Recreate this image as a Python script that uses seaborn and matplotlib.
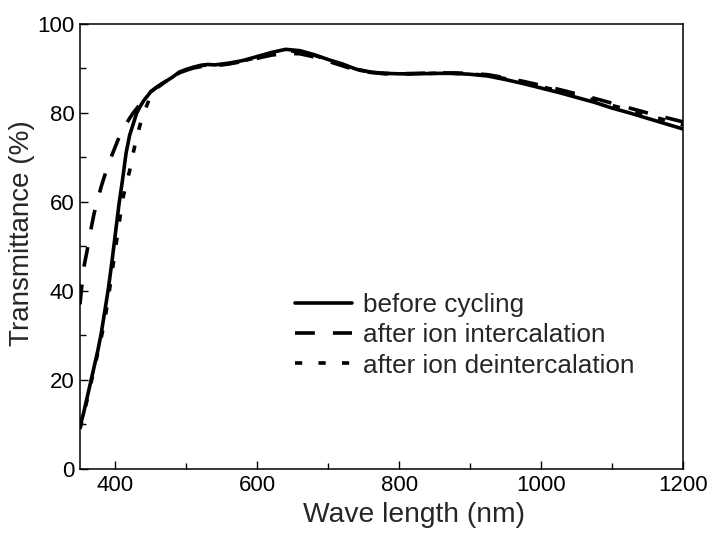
import pandas as pd
import matplotlib.pyplot as plt
from matplotlib.ticker import MultipleLocator
import seaborn as sns

# Wavelength grid (nm)
wavelength = [350, 355, 360, 365, 370, 375, 380, 385, 390, 395, 400, 405, 410, 415,
              420, 425, 430, 435, 440, 450, 460, 470, 480, 490, 500, 510, 520, 530,
              540, 550, 560, 570, 580, 600, 620, 640, 660, 680, 700, 720, 740, 760,
              780, 800, 825, 850, 875, 900, 925, 950, 975, 1000, 1025, 1050, 1075,
              1100, 1125, 1150, 1175, 1200]

# Transmittance (%)
before = [9.5, 12.5, 16, 19.5, 23, 26.5, 30.5, 35.5, 40.5, 46.5, 53, 59.5, 65, 71,
          75, 77.5, 80, 81.5, 82.8, 84.8, 86, 87, 88, 89.2, 89.8, 90.3, 90.7, 90.9,
          90.8, 91.0, 91.2, 91.5, 91.8, 92.7, 93.6, 94.3, 94.0, 93.1, 92.0, 91.0, 89.8, 89.2,
          88.9, 88.8, 88.8, 88.9, 88.9, 88.7, 88.3, 87.5, 86.6, 85.6, 84.6, 83.5, 82.4,
          81.1, 80.0, 78.8, 77.6, 76.4]
intercalation = [37, 45, 49, 53.5, 57.5, 60.5, 63.5, 66, 68.5, 70.5, 72.5, 74.5, 76, 77.5,
                 78.8, 80, 81, 82, 83, 84.8, 86, 87, 88, 89, 89.6, 90.1, 90.4, 90.6,
                 90.6, 90.8, 91.0, 91.3, 91.6, 92.3, 93.0, 93.4, 93.3, 92.6, 91.6, 90.6, 89.6, 89.1,
                 88.8, 88.8, 88.9, 89.0, 89.0, 88.9, 88.6, 87.9, 87.1, 86.2, 85.3, 84.3, 83.3,
                 82.2, 81.1, 80.0, 79.0, 78.0]
deintercalation = [9, 12, 15.5, 19, 22.5, 26, 29.5, 33.5, 38.5, 44, 49.5, 55, 60.5, 64,
                   67, 71, 74.5, 77.5, 80, 84, 85.8, 87, 88, 89, 89.7, 90.2, 90.6, 90.8,
                   90.7, 90.9, 91.1, 91.4, 91.7, 92.5, 93.4, 94.0, 93.8, 93.0, 91.9, 90.9, 89.7, 89.2,
                   88.9, 88.8, 88.8, 88.9, 88.9, 88.8, 88.4, 87.7, 86.8, 85.9, 85.0, 83.9, 82.9,
                   81.7, 80.6, 79.5, 78.4, 77.3]

labels = ["before cycling", "after ion intercalation", "after ion deintercalation"]

df = pd.concat([
    pd.DataFrame({"wl": wavelength, "T": before, "series": labels[0]}),
    pd.DataFrame({"wl": wavelength, "T": intercalation, "series": labels[1]}),
    pd.DataFrame({"wl": wavelength, "T": deintercalation, "series": labels[2]}),
])

sns.set_style("ticks", {"xtick.direction": "in", "ytick.direction": "in"})
plt.rcParams["font.family"] = ["Liberation Sans", "DejaVu Sans"]

fig = plt.figure(figsize=(7.09, 5.35), dpi=100)
ax = fig.add_axes([0.1128, 0.1234, 0.8505, 0.8318])

sns.lineplot(
    data=df, x="wl", y="T", style="series", style_order=labels,
    dashes={labels[0]: "", labels[1]: (5.5, 5), labels[2]: (2, 4.5)},
    color="black", linewidth=2.6, ax=ax, sort=False,
)

ax.set_xlim(350, 1200)
ax.set_ylim(0, 100)
ax.xaxis.set_major_locator(MultipleLocator(200))
ax.xaxis.set_minor_locator(MultipleLocator(100))
ax.yaxis.set_major_locator(MultipleLocator(20))
ax.yaxis.set_minor_locator(MultipleLocator(10))
ax.tick_params(which="major", length=6, width=1, labelsize=16, colors="black", pad=4)
ax.tick_params(which="minor", length=4, width=1, colors="black")
for s in ax.spines.values():
    s.set_linewidth(1.1)
    s.set_color("black")

ax.set_xlabel("Wave length (nm)", fontsize=20.3)
ax.xaxis.set_label_coords(0.554, -0.075)
ax.set_ylabel("Transmittance (%)", fontsize=20)
ax.yaxis.set_label_coords(-0.075, 0.529)

handles, _ = ax.get_legend_handles_labels()
ax.legend(handles=handles, labels=labels, loc="upper left",
          bbox_to_anchor=(295 / 709, 1 - 293 / 535), bbox_transform=fig.transFigure,
          frameon=False, fontsize=18.8, handlelength=2.18, handletextpad=0.41,
          labelspacing=0.24, borderpad=0, borderaxespad=0)

plt.savefig("out.png", dpi=100)
